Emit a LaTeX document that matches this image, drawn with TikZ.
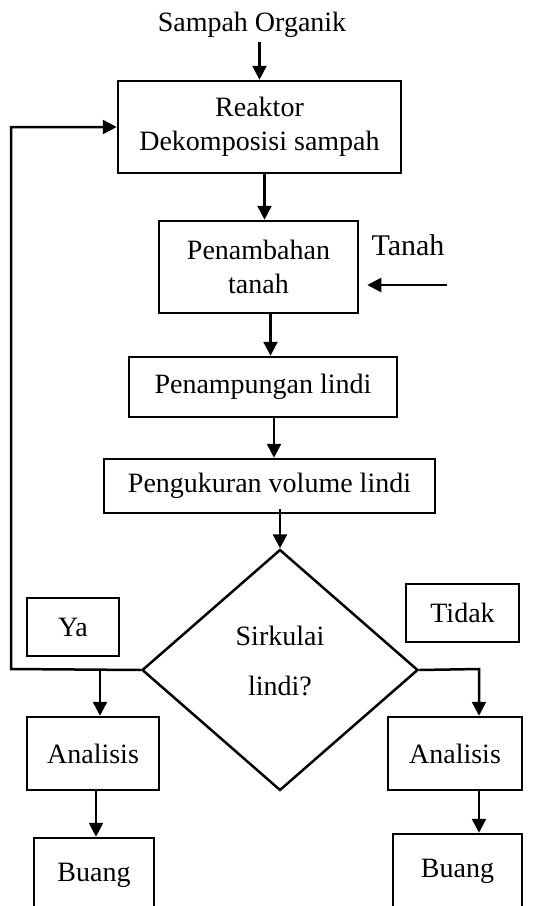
\documentclass[tikz,border=0pt]{standalone}
\usepackage{fontspec}
\setmainfont{Liberation Serif}
\usetikzlibrary{positioning,arrows.meta,shapes.geometric}

\begin{document}
\begin{tikzpicture}[x=0.5pt,y=-0.5pt,font=\fontsize{14}{17}\selectfont,line width=1.25pt,
  b/.style={draw,rectangle,align=center,inner sep=0pt},
  ar/.style={-{Triangle[length=7pt,width=7pt]}}]
  \useasboundingbox (0,0) rectangle (543,906);
  \clip (0,0) rectangle (543,905);
  % main column
  \node (org) at (252,25) {Sampah Organik};
  \node[b,minimum width=141.5pt,minimum height=46pt](reak) at (259.5,127) {Reaktor\\Dekomposisi sampah};
  \node[b,minimum width=99.5pt,minimum height=46pt](pen) at (258.5,267) {Penambahan\\tanah};
  \node[font=\fontsize{15}{18}\selectfont](tnh) at (408,245) {Tanah};
  \node[b,minimum width=134pt,minimum height=30pt](tamp) at (263,387) {Penampungan lindi};
  \node[b,minimum width=165.5pt,minimum height=27pt](ukur) at (269.5,486) {Pengukuran volume lindi};
  \node[draw,diamond,minimum width=138pt,minimum height=120.5pt,inner sep=0pt](dec) at (280,670) {};
  \node[align=center](sirk) at (280,661) {Sirkulai\\[8pt]lindi?};
  % branches
  \node[b,minimum width=46pt,minimum height=29pt](ya) at (73,627) {Ya};
  \node[b,minimum width=56.5pt,minimum height=29pt](tdk) at (462.5,613) {Tidak};
  \node[b,minimum width=66pt,minimum height=36.5pt](anl) at (93,753.5) {Analisis};
  \node[b,minimum width=67pt,minimum height=36.5pt](anr) at (455,753.5) {Analisis};
  \node[b,minimum width=60pt,minimum height=37pt](bul) at (94,875) {Buang};
  \node[b,minimum width=64.5pt,minimum height=37pt](bur) at (457.5,871) {Buang};
  \coordinate (tin) at (447,285);
  \coordinate (fb) at (11,669);
  \coordinate (ybr) at (100,669);
  \coordinate (tbr) at (479,669);
  \draw[ar]([yshift=2pt]org.south -| reak.north)--(reak.north);
  \draw[ar]([xshift=2.5pt]reak.south)--([xshift=2.5pt]reak.south |- pen.north);
  \draw[ar](tin)--([xshift=4pt]pen.east |- tin);
  \draw[ar]([xshift=6pt]pen.south)--([xshift=6pt]pen.south |- tamp.north);
  \draw[ar]([xshift=5.5pt]tamp.south)--([xshift=5.5pt]tamp.south |- ukur.north);
  \draw[ar]([yshift=2.5pt]ukur.south -| dec.north)--(dec.north);
  \draw[ar](dec.west)--(fb)|-(reak.west);
  \draw[ar](ybr)--(ybr |- anl.north);
  \draw[ar](dec.east)--(tbr)--(tbr |- anr.north);
  \draw[ar]([xshift=1.5pt]anl.south)--([xshift=1.5pt]anl.south |- bul.north);
  \draw[ar](anr.south -| tbr)--(tbr |- bur.north);
\end{tikzpicture}
\end{document}
